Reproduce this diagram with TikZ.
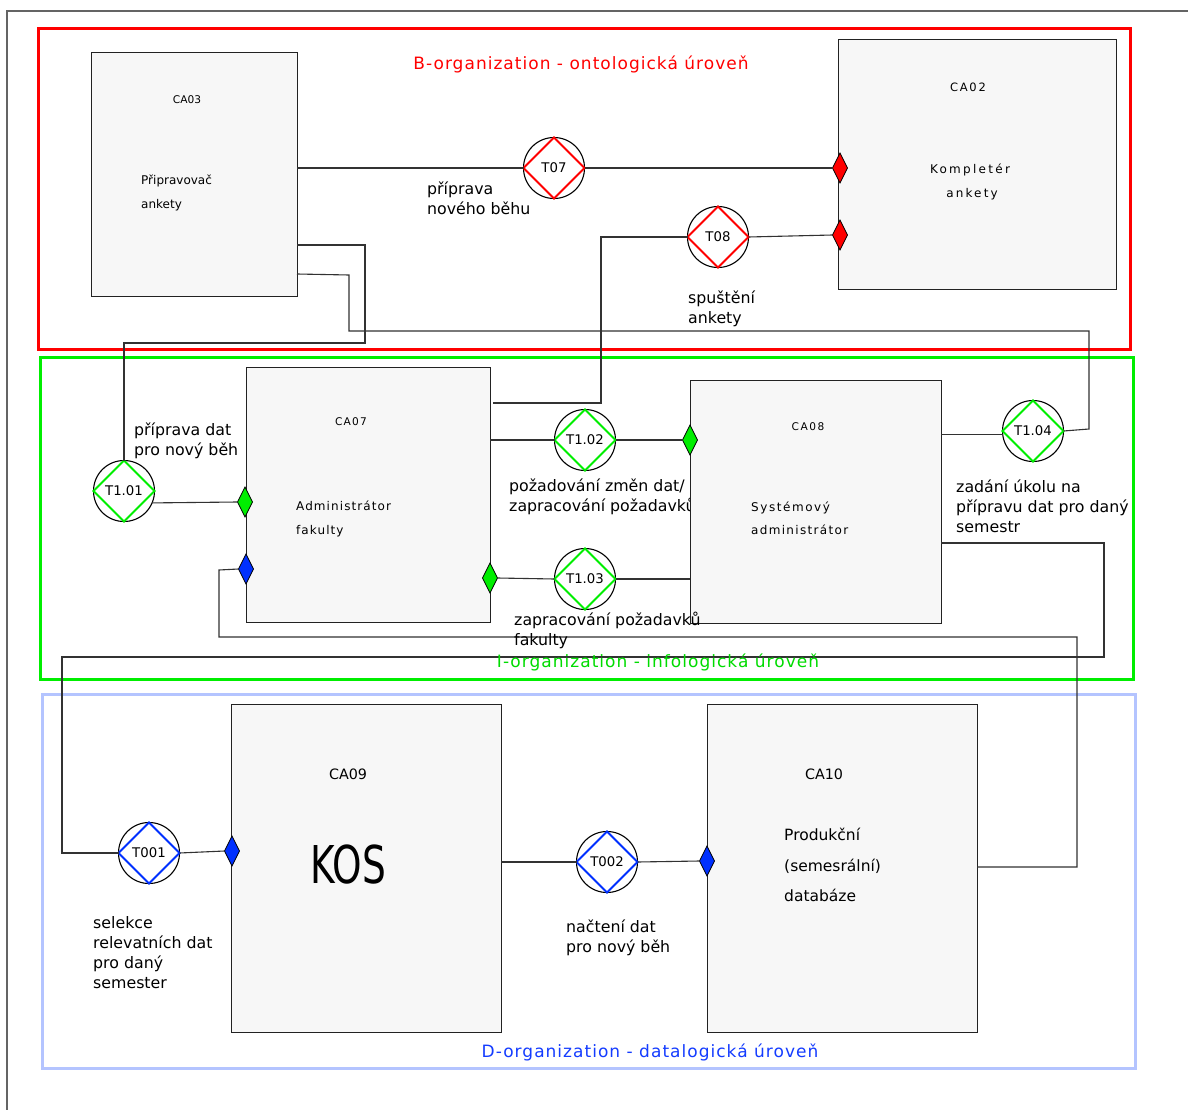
\documentclass[tikz,border=0pt]{standalone}
\usepackage{fontspec}
\setmainfont{DejaVu Sans}
\usetikzlibrary{shapes.geometric,calc}

\definecolor{orgred}{RGB}{255,0,0}
\definecolor{orggreen}{RGB}{0,238,0}
\definecolor{orggreentext}{RGB}{0,220,0}
\definecolor{orgblueframe}{RGB}{180,196,255}
\definecolor{orgblue}{RGB}{0,48,255}
\definecolor{orgbluetext}{RGB}{20,60,255}
\definecolor{boxfill}{RGB}{247,247,247}
\definecolor{boxline}{RGB}{34,34,34}
\definecolor{wirecol}{RGB}{50,50,50}
\definecolor{pagecol}{RGB}{100,100,100}

\newcommand\fs[2]{\fontsize{#1}{#2}\selectfont}
\newcommand\spaced[1]{\addfontfeature{LetterSpace=#1}}

% transaction symbol: circle with an inscribed coloured diamond
\newcommand\txn[4]{%
  \node[txnode] (#1) at (#2) {#3};
  \draw[#4, line width=2pt, line join=miter] (#1.north) -- (#1.east) -- (#1.south) -- (#1.west) -- cycle;
}

\begin{document}
\begin{tikzpicture}[x=1pt,y=-1pt,
  cabox/.style={draw=boxline, fill=boxfill, line width=1pt, inner sep=0pt, outer sep=0pt, anchor=north west},
  txnode/.style={circle, draw=black, fill=white, line width=1.1pt, minimum size=61pt, inner sep=0pt, outer sep=0pt, font=\fs{13.3}{16}},
  gate/.style={diamond, draw=black, line width=0.8pt, fill=#1, minimum width=15pt, minimum height=30pt, inner sep=0pt, outer sep=0pt, shape aspect=0.5},
  wire/.style={draw=wirecol, line width=1.1pt},
  frame/.style={line width=3pt},
  lbl/.style={anchor=base west, align=left, inner sep=0pt, font=\fs{15.8}{20}},
  boxtxt/.style={anchor=base west, inner sep=0pt},
  calbl/.style={anchor=base, inner sep=0pt},
  orgtitle/.style={anchor=base, inner sep=0pt, font=\fs{17}{20}\spaced{6}}
]
\useasboundingbox (0,0) rectangle (1188,1110);
\fill[white] (0,0) rectangle (1188,1110);

% page edge
\draw[pagecol, line width=1.5pt] (7,1110) -- (7,11) -- (1188,11);

% organisation levels
\draw[frame, orgred] (38,29) rectangle (1130,349);
\draw[frame, orggreen] (40,357) rectangle (1133,679);
\draw[frame, orgblueframe] (42,694) rectangle (1135,1068);

% label partly covered by CA08 (base anchor = last line)
\node[lbl] (l102) at (509,511.5) {požadování změn dat/\\zapracování požadavků};

% actor roles
\node[cabox, minimum width=206pt, minimum height=243pt] (ca03) at (91,53) {};
\node[cabox, minimum width=278pt, minimum height=249pt] (ca02) at (838,40) {};
\node[cabox, minimum width=244pt, minimum height=255pt] (ca07) at (246,367) {};
\node[cabox, minimum width=251pt, minimum height=243pt] (ca08) at (690,380) {};
\node[cabox, minimum width=270pt, minimum height=328pt] (ca09) at (231,704) {};
\node[cabox, minimum width=270pt, minimum height=328pt] (ca10) at (707,704) {};

% texts inside the actor roles
\node[calbl, font=\fs{10.6}{12}] (ca03n) at (187,104) {CA03};
\node[boxtxt, font=\fs{12}{14}] (ca03a) at (141,185) {Připravovač};
\node[boxtxt, font=\fs{12}{14}] (ca03b) at (141,208) {ankety};

\node[calbl, font=\fs{11.5}{14}\spaced{15}] (ca02n) at (968,92) {CA02};
\node[calbl, font=\fs{12}{14}\spaced{19}] (ca02a) at (970,174) {Kompletér};
\node[calbl, font=\fs{12}{14}\spaced{18}] (ca02b) at (972,198) {ankety};

\node[calbl, font=\fs{10.6}{12}\spaced{12}] (ca07n) at (351,425) {CA07};
\node[boxtxt, font=\fs{12}{14}\spaced{9}] (ca07a) at (296,510) {Administrátor};
\node[boxtxt, font=\fs{12}{14}\spaced{9}] (ca07b) at (296,534) {fakulty};

\node[calbl, font=\fs{10.6}{12}\spaced{14}] (ca08n) at (808,430) {CA08};
\node[boxtxt, font=\fs{12}{14}\spaced{13}] (ca08a) at (751,511) {Systémový};
\node[boxtxt, font=\fs{12}{14}\spaced{11}] (ca08b) at (751,534) {administrátor};

\node[calbl, font=\fs{14.3}{16}] (ca09n) at (348,779) {CA09};
\node[inner sep=0pt, font=\fs{37.5}{40}] (kos) at (348,865) {\scalebox{1}[1.39]{KOS}};

\node[calbl, font=\fs{14.3}{16}] (ca10n) at (824,779) {CA10};
\node[boxtxt, font=\fs{15.5}{18}] (ca10a) at (784,840) {Produkční};
\node[boxtxt, font=\fs{15.5}{18}] (ca10b) at (784,871) {(semesrální)};
\node[boxtxt, font=\fs{15.5}{18}] (ca10c) at (784,901) {databáze};

% transactions
\txn{t07}{554,168}{T07}{orgred}
\txn{t08}{718,237}{T08}{orgred}
\txn{t101}{124,491}{T1.01}{orggreen}
\txn{t102}{585,440}{T1.02}{orggreen}
\txn{t103}{585,579}{T1.03}{orggreen}
\txn{t104}{1033,431}{T1.04}{orggreen}
\txn{t001}{149,853}{T001}{orgblue}
\txn{t002}{607,862}{T002}{orgblue}

% executor links
\node[gate=orgred] (dr1) at (840,168) {};
\node[gate=orgred] (dr2) at (840,235) {};
\node[gate=orggreen] (dg1) at (245,502) {};
\node[gate=orggreen] (dg2) at (490,578) {};
\node[gate=orggreen] (dg3) at (690,440) {};
\node[gate=orgblue] (db1) at (246,569) {};
\node[gate=orgblue] (db2) at (232,851) {};
\node[gate=orgblue] (db3) at (707,861) {};

\coordinate (c4end) at (493,403);

% connectors
\draw[wire] (t07.west -| ca03.east) -- (t07.west);
\draw[wire] (t07.east) -- (dr1.west);
\draw[wire] (t08.east) -- (dr2.west);
\draw[wire] (t08.west) -| (601,403) -- (c4end);
\draw[wire] (ca03.east |- 0,245) -- (365,245) -- (365,343) -- (t101.north |- 0,343) -- (t101.north);
\draw[wire] (ca03.east |- 0,274) -- (349,275) -- (349,331) -- (1089,331) -- (1089,429) -- (t104.east);
\draw[wire] (t101.-23) -- (dg1.west);
\draw[wire] (t102.west -| ca07.east) -- (t102.west);
\draw[wire] (t102.east) -- (dg3.west);
\draw[wire] (dg2.east) -- (t103.west);
\draw[wire] (t103.east) -- (t103.east -| ca08.west);
\draw[wire] (t104.186 -| ca08.east) -- (t104.186);
\draw[wire] (ca08.east |- 0,543) -- (1104,543) -- (1104,657) -- (62,657) -- (62,853) -- (t001.west);
\draw[wire] (db1.west) -- (219,570) -- (219,637) -- (1077,637) -- (1077,867) -- (ca10.east |- 0,867);
\draw[wire] (t001.east) -- (db2.west);
\draw[wire] (ca09.east |- t002.west) -- (t002.west);
\draw[wire] (t002.east) -- (db3.west);

% transaction names (base anchor = last line)
\node[lbl] (l07) at (427,214.5) {příprava\\nového běhu};
\node[lbl] (l08) at (688,323.5) {spuštění\\ankety};
\node[lbl] (l101) at (134,455.5) {příprava dat\\pro nový běh};
\node[lbl] (l103) at (514,645.5) {zapracování požadavků\\fakulty};
\node[lbl] (l104) at (956,532.5) {zadání úkolu na\\přípravu dat pro daný\\semestr};
\node[lbl] (l001) at (93,988.5) {selekce\\relevatních dat\\pro daný\\semester};
\node[lbl] (l002) at (566,952.5) {načtení dat\\pro nový běh};

% level titles
\node[orgtitle, text=orgred] (tb) at (581,69.5) {B-organization - ontologická úroveň};
\node[orgtitle, text=orggreentext] (ti) at (658,667.5) {I-organization - infologická úroveň};
\node[orgtitle, text=orgbluetext] (td) at (650,1057.5) {D-organization - datalogická úroveň};
\end{tikzpicture}
\end{document}
